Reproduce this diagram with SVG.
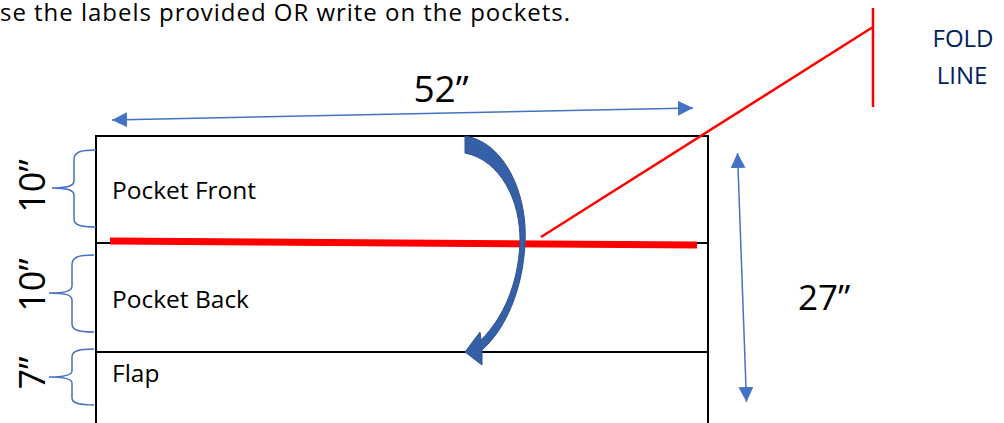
<svg xmlns="http://www.w3.org/2000/svg" width="1004" height="423" viewBox="0 0 1004 423">
<style>
.t{font-family:"Open Sans","Liberation Sans",sans-serif;fill:#000}
.navy{font-family:"Open Sans","Liberation Sans",sans-serif;fill:#002060}
.edge{stroke:#000;stroke-width:2;fill:none}
.brace{stroke:#4472C4;stroke-width:1.5;fill:none}
.dim{stroke:#4472C4;stroke-width:1.5;fill:none}
.red{stroke:#FF0000;fill:none}
</style>
<defs>
<marker id="ah" viewBox="0 0 10 10" refX="10" refY="5" markerWidth="15" markerHeight="15" markerUnits="userSpaceOnUse" orient="auto-start-reverse">
<path d="M0,0 L10,5 L0,10 z" fill="#4472C4"/>
</marker>
</defs>
<rect width="1004" height="423" fill="#fff"/>
<text class="t" x="0" y="21" font-size="24" textLength="570" lengthAdjust="spacing">se the labels provided OR write on the pockets.</text>
<g id="pattern">
<path class="edge" d="M96,424 L96,136 L708,136 L708,424"/>
<line class="edge" x1="96" y1="243" x2="708" y2="243"/>
<line class="edge" x1="96" y1="352" x2="708" y2="352"/>
</g>
<g id="pocket-front"><text class="t" x="112" y="199" font-size="24.5">Pocket Front</text></g>
<g id="pocket-back"><text class="t" x="112" y="308" font-size="24.5">Pocket Back</text></g>
<g id="flap"><text class="t" x="112" y="382" font-size="24.5">Flap</text></g>
<g id="fold-label">
<text class="navy" x="963" y="47" font-size="24" text-anchor="middle">FOLD</text>
<text class="navy" x="962" y="84" font-size="24" text-anchor="middle">LINE</text>
</g>
<g id="dimensions">
<text class="t" x="441" y="102" font-size="37" text-anchor="middle">52”</text>
<text class="t" x="824" y="310" font-size="35" text-anchor="middle">27”</text>
<text class="t" transform="translate(45,186) rotate(-90)" font-size="36" text-anchor="middle">10”</text>
<text class="t" transform="translate(45,285) rotate(-90)" font-size="36" text-anchor="middle">10”</text>
<text class="t" transform="translate(45,373) rotate(-90)" font-size="36" text-anchor="middle">7”</text>
</g>
<g id="connectors">
<line class="dim" x1="112" y1="120" x2="693" y2="108" marker-start="url(#ah)" marker-end="url(#ah)"/>
<line class="dim" x1="737.5" y1="153" x2="746.5" y2="402" marker-start="url(#ah)" marker-end="url(#ah)"/>
<path class="brace" d="M96,150 C80,150 74,152 74,160 L74,181 C74,186 68,188 52,188 C68,188 74,190 74,195 L74,219 C74,225 80,227 96,227"/>
<path class="brace" d="M94,255 C78,255 72,257 72,265 L72,286 C72,291 66,293 49,293 C66,293 72,295 72,300 L72,324 C72,330 78,332 94,332"/>
<path class="brace" d="M94,349 C78,349 72,351 72,357 L72,371 C72,375 66,377 49,377 C66,377 72,379 72,383 L72,398 C72,403 78,405 94,405"/>
<line class="red" x1="110" y1="241" x2="697" y2="245" stroke-width="7"/>
<line class="red" x1="541" y1="237" x2="873" y2="27" stroke-width="2.5"/>
<line class="red" x1="873" y1="8" x2="873" y2="107" stroke-width="2.5"/>
<path d="M465,136 C505,142 528,195 525,243 C523,290 505,330 482,350 L482,365 L465,352 L480,332 L481,340 C503,318 518,285 520,243 C521,200 500,160 465,153 Z" fill="#3560A8" stroke="#2F528F" stroke-width="1"/>
</g>
</svg>
